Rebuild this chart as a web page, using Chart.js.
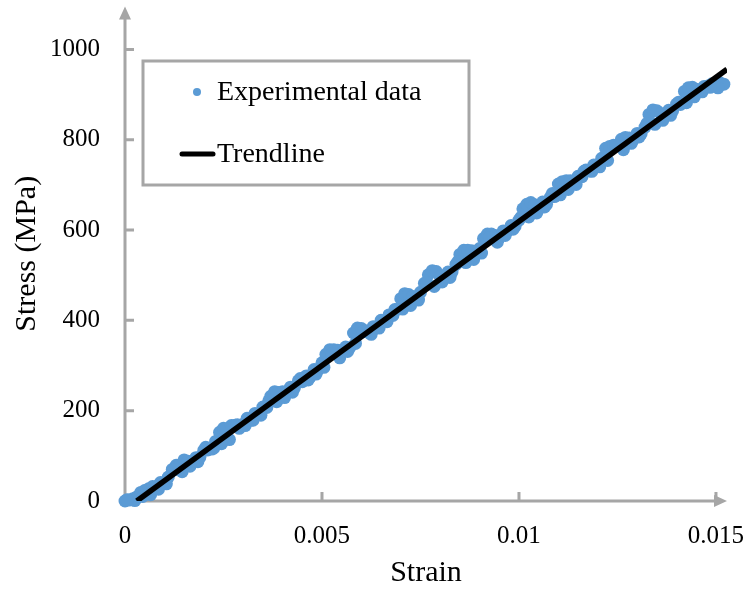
<!DOCTYPE html>
<html>
<head>
    <title>Stress-strain</title>
    <script src="https://cdn.jsdelivr.net/npm/chart.js"></script>
    <style>
        body { margin: 0; background: #fff; }
        .chart-box { width: 748px; height: 595px; }
    </style>
</head>
<body>

<div class="chart-box"><canvas id="grafico"></canvas></div>

<script>
    // datos
    const strainExp = [
        0.0000, 0.0001, 0.0002, 0.0003, 0.0004, 0.0005, 0.0006, 0.0007, 0.0008, 0.0009,
        0.0010, 0.0011, 0.0012, 0.0013, 0.0014, 0.0015, 0.0016, 0.0017, 0.0018, 0.0019,
        0.0020, 0.0021, 0.0022, 0.0023, 0.0024, 0.0025, 0.0026, 0.0027, 0.0028, 0.0029,
        0.0030, 0.0031, 0.0032, 0.0033, 0.0034, 0.0035, 0.0036, 0.0037, 0.0038, 0.0039,
        0.0040, 0.0041, 0.0042, 0.0043, 0.0044, 0.0045, 0.0046, 0.0047, 0.0048, 0.0049,
        0.0050, 0.0051, 0.0052, 0.0053, 0.0054, 0.0055, 0.0056, 0.0057, 0.0058, 0.0059,
        0.0060, 0.0061, 0.0062, 0.0063, 0.0064, 0.0065, 0.0066, 0.0067, 0.0068, 0.0069,
        0.0070, 0.0071, 0.0072, 0.0073, 0.0074, 0.0075, 0.0076, 0.0077, 0.0078, 0.0079,
        0.0080, 0.0081, 0.0082, 0.0083, 0.0084, 0.0085, 0.0086, 0.0087, 0.0088, 0.0089,
        0.0090, 0.0091, 0.0092, 0.0093, 0.0094, 0.0095, 0.0096, 0.0097, 0.0098, 0.0099,
        0.0100, 0.0101, 0.0102, 0.0103, 0.0104, 0.0105, 0.0106, 0.0107, 0.0108, 0.0109,
        0.0110, 0.0111, 0.0112, 0.0113, 0.0114, 0.0115, 0.0116, 0.0117, 0.0118, 0.0119,
        0.0120, 0.0121, 0.0122, 0.0123, 0.0124, 0.0125, 0.0126, 0.0127, 0.0128, 0.0129,
        0.0130, 0.0131, 0.0132, 0.0133, 0.0134, 0.0135, 0.0136, 0.0137, 0.0138, 0.0139,
        0.0140, 0.0141, 0.0142, 0.0143, 0.0144, 0.0145, 0.0146, 0.0147, 0.0148, 0.0149,
        0.0150, 0.0151, 0.0152,
        0.00025, 0.00065, 0.00105, 0.00145, 0.00185, 0.00225, 0.00265, 0.00305, 0.00345, 0.00385,
        0.00425, 0.00465, 0.00505, 0.00545, 0.00585, 0.00625, 0.00665, 0.00705, 0.00745, 0.00785,
        0.00825, 0.00865, 0.00905, 0.00945, 0.00985, 0.01025, 0.01065, 0.01105, 0.01145, 0.01185,
        0.01225, 0.01265, 0.01305, 0.01345, 0.01385, 0.01425, 0.01465, 0.01505,
        0.00005, 0.00045, 0.00085, 0.00125, 0.00165, 0.00205, 0.00245, 0.00285, 0.00325, 0.00365,
        0.00405, 0.00445, 0.00485, 0.00525, 0.00565, 0.00605, 0.00645, 0.00685, 0.00725, 0.00765,
        0.00805, 0.00845, 0.00885, 0.00925, 0.00965, 0.01005, 0.01045, 0.01085, 0.01125, 0.01165,
        0.01205, 0.01245, 0.01285, 0.01325, 0.01365, 0.01405, 0.01445, 0.01485
    ];
    const stressExp = [
        0, 2, 5, 9, 19, 23, 27, 32, 32, 41,
        41, 53, 70, 79, 80, 91, 88, 87, 96, 97,
        112, 113, 115, 132, 152, 161, 139, 167, 168, 161,
        170, 183, 179, 194, 193, 208, 207, 232, 242, 240,
        242, 239, 252, 250, 266, 264, 277, 275, 291, 291,
        306, 325, 335, 335, 334, 329, 341, 339, 372, 383,
        382, 377, 372, 386, 384, 400, 400, 412, 411, 424,
        448, 459, 457, 453, 448, 462, 482, 501, 510, 508,
        497, 493, 507, 507, 524, 546, 555, 555, 554, 546,
        559, 581, 591, 591, 588, 583, 598, 597, 610, 608,
        622, 647, 657, 661, 656, 647, 662, 657, 673, 674,
        702, 707, 709, 709, 704, 719, 718, 733, 731, 744,
        743, 759, 781, 785, 788, 788, 801, 805, 804, 800,
        814, 813, 828, 856, 866, 864, 858, 852, 865, 864,
        879, 878, 907, 915, 916, 912, 909, 918, 919, 924,
        925, 926, 923,
        1, 14, 38, 65, 87, 117, 136, 167, 190, 220,
        241, 268, 296, 317, 349, 369, 397, 425, 445, 475,
        495, 528, 549, 573, 602, 629, 651, 678, 701, 730,
        754, 778, 806, 834, 854, 882, 906, 915,
        3, 10, 26, 69, 77, 119, 127, 169, 179, 222,
        229, 271, 281, 326, 331, 375, 383, 424, 433, 483,
        485, 530, 535, 583, 588, 628, 638, 681, 690, 730,
        740, 787, 792, 836, 843, 883, 895, 916
    ];
    const trendStrain = [0.0003, 0.01528];
    const trendStress = [0, 956];

    const xTicks = [0, 0.005, 0.01, 0.015];
    const yTicks = [0, 200, 400, 600, 800, 1000];
    const xMax = 0.01528;
    const yMax = 1095;

    const fuente = "'Liberation Serif', 'Times New Roman', serif";
    const gris = '#a6a6a6';
    const azul = '#5b9bd5';

    const puntos = strainExp.map((s, i) => ({ x: s, y: stressExp[i] }));
    const tendencia = trendStrain.map((s, i) => ({ x: s, y: trendStress[i] }));

    // ejes con flechas y marcas hacia dentro
    const ejes = {
        id: 'ejes',
        beforeDatasetsDraw(chart) {
            const { ctx, chartArea, scales: { x, y } } = chart;
            const x0 = x.getPixelForValue(0);
            const y0 = y.getPixelForValue(0);
            ctx.save();
            ctx.strokeStyle = gris;
            ctx.fillStyle = gris;
            ctx.lineWidth = 3;
            ctx.beginPath();
            ctx.moveTo(x0, y0 + 1.5);
            ctx.lineTo(x0, chartArea.top + 10);
            ctx.moveTo(x0 - 1.5, y0);
            ctx.lineTo(chartArea.right - 10, y0);
            yTicks.forEach(v => {
                if (v === 0) return;
                const py = y.getPixelForValue(v);
                ctx.moveTo(x0, py);
                ctx.lineTo(x0 + 9, py);
            });
            xTicks.forEach(v => {
                if (v === 0) return;
                const px = x.getPixelForValue(v);
                ctx.moveTo(px, y0);
                ctx.lineTo(px, y0 - 9);
            });
            ctx.stroke();
            // flechas
            ctx.beginPath();
            ctx.moveTo(x0, chartArea.top);
            ctx.lineTo(x0 - 6, chartArea.top + 13);
            ctx.lineTo(x0 + 6, chartArea.top + 13);
            ctx.closePath();
            ctx.moveTo(chartArea.right, y0);
            ctx.lineTo(chartArea.right - 13, y0 - 6);
            ctx.lineTo(chartArea.right - 13, y0 + 6);
            ctx.closePath();
            ctx.fill();
            ctx.restore();
        }
    };

    // leyenda con marco
    const leyenda = {
        id: 'leyenda',
        afterDraw(chart) {
            const ctx = chart.ctx;
            ctx.save();
            ctx.fillStyle = '#fff';
            ctx.fillRect(143, 61, 326, 124);
            ctx.strokeStyle = gris;
            ctx.lineWidth = 3;
            ctx.strokeRect(143, 61, 326, 124);

            ctx.fillStyle = azul;
            ctx.beginPath();
            ctx.arc(197, 92, 4, 0, Math.PI * 2);
            ctx.fill();

            ctx.strokeStyle = '#000';
            ctx.lineWidth = 5;
            ctx.lineCap = 'round';
            ctx.beginPath();
            ctx.moveTo(182, 154);
            ctx.lineTo(213, 154);
            ctx.stroke();

            ctx.fillStyle = '#000';
            ctx.font = '28px ' + fuente;
            ctx.textBaseline = 'alphabetic';
            ctx.fillText(chart.data.datasets[0].label, 217, 100);
            ctx.fillText(chart.data.datasets[1].label, 217, 162);
            ctx.restore();
        }
    };

    new Chart(document.getElementById('grafico').getContext('2d'), {
        type: 'scatter',
        data: {
            datasets: [{
                label: 'Experimental data',
                data: puntos,
                backgroundColor: azul,
                borderWidth: 0,
                pointRadius: 6.5,
                clip: false,
                order: 1
            }, {
                label: 'Trendline',
                type: 'line',
                data: tendencia,
                borderColor: '#000',
                borderWidth: 5.5,
                pointRadius: 0,
                fill: false,
                order: 0
            }]
        },
        options: {
            responsive: true,
            maintainAspectRatio: false,
            animation: false,
            layout: { padding: { top: 5, right: 21, bottom: 0, left: 0 } },
            plugins: {
                legend: { display: false },
                tooltip: { enabled: false }
            },
            scales: {
                x: {
                    type: 'linear',
                    min: 0,
                    max: xMax,
                    grid: { display: false, drawTicks: true, tickLength: 17 },
                    border: { display: false },
                    afterBuildTicks: s => { s.ticks = xTicks.map(v => ({ value: v })); },
                    afterFit: s => { s.height = 94; s.paddingLeft = 0; s.paddingRight = 0; },
                    ticks: {
                        padding: 3,
                        maxRotation: 0,
                        color: '#000',
                        font: { family: fuente, size: 25 },
                        callback: v => String(v)
                    },
                    title: {
                        display: true,
                        text: 'Strain',
                        color: '#000',
                        font: { family: fuente, size: 30 },
                        padding: { top: 0, bottom: 4 }
                    }
                },
                y: {
                    type: 'linear',
                    min: 0,
                    max: yMax,
                    grid: { display: false, drawTicks: false },
                    border: { display: false },
                    afterBuildTicks: s => { s.ticks = yTicks.map(v => ({ value: v })); },
                    afterFit: s => { s.width = 125; s.paddingTop = 0; s.paddingBottom = 0; },
                    ticks: {
                        padding: 25,
                        color: '#000',
                        font: { family: fuente, size: 25 },
                        callback: v => String(v)
                    },
                    title: {
                        display: true,
                        text: 'Stress (MPa)',
                        color: '#000',
                        font: { family: fuente, size: 30 },
                        padding: { top: 9, bottom: 0 }
                    }
                }
            }
        },
        plugins: [ejes, leyenda]
    });
</script>

</body>
</html>
